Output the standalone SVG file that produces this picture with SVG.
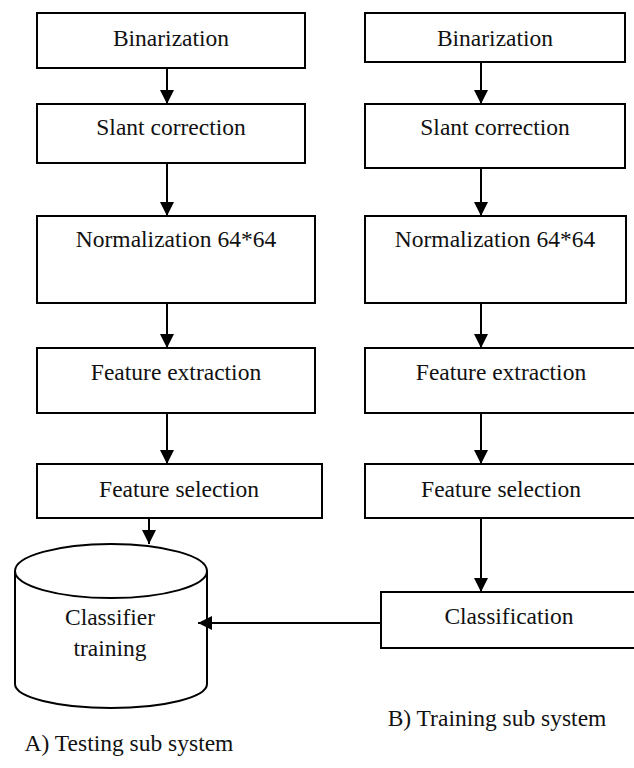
<svg xmlns="http://www.w3.org/2000/svg" width="634" height="768" viewBox="0 0 634 768">
<defs>
<style>
.box{fill:#fff;stroke:#000;stroke-width:2}
.c{stroke:#000;stroke-width:2;fill:none}
text{font-family:'Liberation Serif',serif;font-size:23.5px;fill:#111;text-anchor:middle}
</style>
<marker id="ah" markerWidth="14" markerHeight="14" viewBox="0 0 14 14" refX="14" refY="7" orient="auto" markerUnits="userSpaceOnUse">
<path d="M0,0 L14,7 L0,14 Z" fill="#000"/>
</marker>
</defs>
<rect width="634" height="768" fill="#fff"/>
<g id="a-binarization"><rect class="box" x="37" y="13" width="268" height="55"/><text font-family="Liberation Serif" x="171" y="46">Binarization</text></g>
<g id="a-slant"><rect class="box" x="37" y="104" width="268" height="59"/><text font-family="Liberation Serif" x="171" y="135">Slant correction</text></g>
<g id="a-norm"><rect class="box" x="37" y="216" width="278" height="87"/><text font-family="Liberation Serif" x="176" y="247">Normalization 64*64</text></g>
<g id="a-fext"><rect class="box" x="37" y="348" width="278" height="65"/><text font-family="Liberation Serif" x="176" y="380">Feature extraction</text></g>
<g id="a-fsel"><rect class="box" x="37" y="464" width="285" height="54"/><text font-family="Liberation Serif" x="179" y="497">Feature selection</text></g>
<g id="a-classifier">
<path class="box" d="M15,571 L15,684 A96,24 0 0 0 207,684 L207,571"/>
<ellipse class="box" cx="111" cy="571" rx="96" ry="27"/>
<text font-family="Liberation Serif" x="110" y="625">Classifier</text>
<text font-family="Liberation Serif" x="110" y="656">training</text>
</g>
<g id="b-binarization"><rect class="box" x="365" y="13" width="260" height="49"/><text font-family="Liberation Serif" x="495" y="46">Binarization</text></g>
<g id="b-slant"><rect class="box" x="365" y="104" width="260" height="64"/><text font-family="Liberation Serif" x="495" y="135">Slant correction</text></g>
<g id="b-norm"><rect class="box" x="365" y="216" width="261" height="87"/><text font-family="Liberation Serif" x="495" y="247">Normalization 64*64</text></g>
<g id="b-fext"><rect class="box" x="365" y="348" width="272" height="65"/><text font-family="Liberation Serif" x="501" y="380">Feature extraction</text></g>
<g id="b-fsel"><rect class="box" x="365" y="464" width="272" height="54"/><text font-family="Liberation Serif" x="501" y="497">Feature selection</text></g>
<g id="b-classification"><rect class="box" x="381" y="592" width="256" height="56"/><text font-family="Liberation Serif" x="509" y="624">Classification</text></g>
<g id="labels">
<text font-family="Liberation Serif" x="129" y="751">A) Testing sub system</text>
<text font-family="Liberation Serif" x="497" y="726">B) Training sub system</text>
</g>
<g id="connectors">
<line class="c" x1="167" y1="68" x2="167" y2="104" marker-end="url(#ah)"/>
<line class="c" x1="167" y1="163" x2="167" y2="216" marker-end="url(#ah)"/>
<line class="c" x1="167" y1="303" x2="167" y2="348" marker-end="url(#ah)"/>
<line class="c" x1="167" y1="413" x2="167" y2="464" marker-end="url(#ah)"/>
<line class="c" x1="149" y1="518" x2="149" y2="544" marker-end="url(#ah)"/>
<line class="c" x1="481" y1="62" x2="481" y2="104" marker-end="url(#ah)"/>
<line class="c" x1="481" y1="168" x2="481" y2="216" marker-end="url(#ah)"/>
<line class="c" x1="481" y1="303" x2="481" y2="348" marker-end="url(#ah)"/>
<line class="c" x1="481" y1="413" x2="481" y2="464" marker-end="url(#ah)"/>
<line class="c" x1="481" y1="518" x2="481" y2="592" marker-end="url(#ah)"/>
<line class="c" x1="381" y1="623" x2="198" y2="623" marker-end="url(#ah)"/>
</g>
</svg>
